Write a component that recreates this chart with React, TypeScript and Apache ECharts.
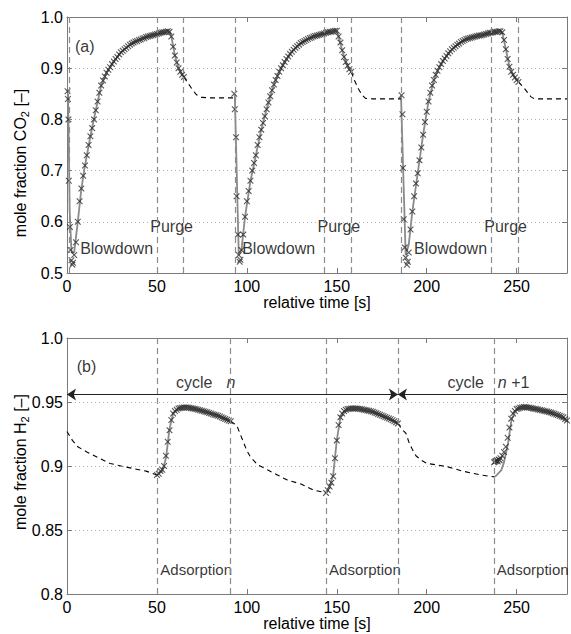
import React, { useEffect, useRef } from "react";
import * as echarts from "echarts";

// ---------- DATA ----------
// Top panel: CO2 mole fraction
const co2TickMin = 0.5;
const co2TickMax = 1.0;
const timeMax = 278;

// measured (x markers): fast blowdown drops as [t, y]
const co2Drop1 = [[0.3, 0.855], [0.5, 0.84], [0.8, 0.8], [1, 0.68], [1.6, 0.59], [2, 0.545], [2.5, 0.525], [3, 0.516], [3.3, 0.52]];
const co2Drop2 = [[93, 0.85], [93.3, 0.82], [94, 0.765], [94.3, 0.65], [95, 0.575], [95.5, 0.535], [96, 0.522], [96.4, 0.526]];
const co2Drop3 = [[186, 0.847], [186.5, 0.81], [186.8, 0.705], [187.2, 0.605], [187.8, 0.55], [188.3, 0.53], [189, 0.516], [189.5, 0.522], [190, 0.54]];
// measured, sampled every 1 s starting at given time
const co2Rise1Start = 4;
const co2Rise1 = [0.535, 0.56, 0.6, 0.64, 0.665, 0.69, 0.71, 0.73, 0.75, 0.767, 0.783, 0.8, 0.818, 0.835, 0.852, 0.866, 0.876, 0.884, 0.891, 0.897, 0.902, 0.908, 0.913, 0.918, 0.922, 0.927, 0.931, 0.934, 0.937, 0.94, 0.943, 0.946, 0.948, 0.95, 0.952, 0.953, 0.955, 0.956, 0.958, 0.959, 0.961, 0.962, 0.963, 0.964, 0.965, 0.966, 0.967, 0.968, 0.969, 0.97, 0.97, 0.971, 0.972, 0.971, 0.962, 0.942, 0.925, 0.911, 0.9, 0.893, 0.887, 0.883];
const co2Rise2Start = 97;
const co2Rise2 = [0.545, 0.575, 0.61, 0.64, 0.66, 0.68, 0.7, 0.715, 0.73, 0.75, 0.765, 0.78, 0.793, 0.806, 0.82, 0.833, 0.845, 0.857, 0.868, 0.877, 0.885, 0.893, 0.9, 0.906, 0.912, 0.918, 0.923, 0.928, 0.932, 0.936, 0.94, 0.943, 0.946, 0.949, 0.951, 0.953, 0.955, 0.957, 0.959, 0.96, 0.962, 0.963, 0.964, 0.965, 0.966, 0.967, 0.968, 0.969, 0.97, 0.971, 0.971, 0.972, 0.973, 0.973, 0.962, 0.95, 0.935, 0.922, 0.912, 0.905, 0.898, 0.893];
const co2Rise3Start = 191;
const co2Rise3 = [0.585, 0.62, 0.65, 0.675, 0.695, 0.72, 0.745, 0.77, 0.795, 0.815, 0.835, 0.852, 0.866, 0.877, 0.887, 0.895, 0.902, 0.908, 0.914, 0.919, 0.924, 0.929, 0.933, 0.937, 0.94, 0.943, 0.946, 0.948, 0.951, 0.953, 0.955, 0.957, 0.958, 0.959, 0.96, 0.961, 0.962, 0.963, 0.964, 0.964, 0.965, 0.966, 0.967, 0.968, 0.969, 0.969, 0.97, 0.971, 0.971, 0.972, 0.972, 0.97, 0.955, 0.937, 0.918, 0.903, 0.893, 0.887, 0.882, 0.877, 0.873];
// model (grey solid)
const co2Model1 = [[0.6, 0.85], [1.5, 0.62], [2.5, 0.54], [4, 0.54], [6, 0.6], [8, 0.665], [10, 0.71], [13, 0.767], [16, 0.818], [19, 0.866], [22, 0.891], [25, 0.908], [30, 0.931], [35, 0.946], [40, 0.955], [45, 0.962], [50, 0.967], [57, 0.972], [58, 0.962], [60, 0.925], [62, 0.9], [65, 0.883]];
const co2Model2 = [[93.3, 0.848], [95.5, 0.535], [97, 0.545], [99, 0.61], [102, 0.68], [105, 0.73], [108, 0.78], [111, 0.82], [114, 0.857], [117, 0.885], [120, 0.906], [125, 0.932], [130, 0.949], [135, 0.959], [140, 0.965], [145, 0.97], [150, 0.973], [151, 0.962], [153, 0.935], [155, 0.912], [158, 0.893]];
const co2Model3 = [[185.7, 0.847], [188.3, 0.535], [190, 0.555], [192, 0.62], [195, 0.695], [198, 0.77], [201, 0.835], [204, 0.877], [207, 0.902], [210, 0.919], [215, 0.94], [220, 0.953], [225, 0.96], [230, 0.964], [235, 0.969], [241, 0.972], [242, 0.97], [244, 0.937], [246, 0.903], [248, 0.887], [251, 0.873]];
// model, unmeasured part (black dashed)
const co2Dash1 = [[65, 0.883], [67, 0.872], [70, 0.857], [72, 0.848], [75, 0.843], [80, 0.842], [93.3, 0.842]];
const co2Dash2 = [[158, 0.893], [160, 0.875], [162, 0.86], [164, 0.848], [166, 0.841], [170, 0.84], [185.7, 0.84]];
const co2Dash3 = [[251, 0.873], [254, 0.862], [256.4, 0.851], [258, 0.844], [260, 0.84], [278, 0.84]];
const co2StepLines = [1, 50, 64.5, 93.3, 143, 157.8, 186, 236, 250.8];

// Bottom panel: H2 mole fraction
const h2TickMin = 0.8;
const h2TickMax = 1.0;
const h2Meas1Start = 50;
const h2Meas1 = [0.893, 0.894, 0.896, 0.897, 0.9, 0.908, 0.919, 0.928, 0.936, 0.941, 0.943, 0.944, 0.945, 0.9453, 0.9456, 0.9458, 0.9458, 0.9457, 0.9455, 0.9452, 0.945, 0.9447, 0.9443, 0.944, 0.9436, 0.9432, 0.9428, 0.9424, 0.942, 0.9415, 0.941, 0.9405, 0.94, 0.9397, 0.9392, 0.9386, 0.938, 0.9374, 0.9368, 0.9362, 0.9356, 0.935];
const h2Meas2Start = 144;
const h2Meas2 = [0.879, 0.881, 0.884, 0.887, 0.892, 0.906, 0.92, 0.932, 0.938, 0.941, 0.943, 0.944, 0.9445, 0.9448, 0.945, 0.945, 0.945, 0.9449, 0.9447, 0.9445, 0.9443, 0.944, 0.9437, 0.9434, 0.9431, 0.9427, 0.9423, 0.9418, 0.9413, 0.9407, 0.9401, 0.9395, 0.9389, 0.9383, 0.9377, 0.9371, 0.9365, 0.9357, 0.9349, 0.9341, 0.9333];
const h2Start3 = [[237.5, 0.903], [238, 0.9035], [238.5, 0.904], [239, 0.9045], [239.5, 0.9035], [240, 0.905], [240.5, 0.9045], [241, 0.906]];
const h2Meas3Start = 242;
const h2Meas3 = [0.908, 0.911, 0.915, 0.922, 0.93, 0.937, 0.941, 0.943, 0.9445, 0.945, 0.9455, 0.9458, 0.946, 0.946, 0.9458, 0.9456, 0.9453, 0.945, 0.9448, 0.9445, 0.9441, 0.9438, 0.9435, 0.9432, 0.9428, 0.9425, 0.9421, 0.9417, 0.9413, 0.9408, 0.9403, 0.9398, 0.9392, 0.9386, 0.938, 0.9368, 0.9355];
const h2Model1 = [[50, 0.893], [53, 0.896], [55, 0.906], [57, 0.929], [59, 0.941], [62, 0.945], [66, 0.946], [74, 0.9436], [83, 0.9397], [91, 0.935]];
const h2Model2 = [[144.3, 0.879], [146, 0.884], [148, 0.893], [150, 0.92], [152, 0.938], [156, 0.9445], [161, 0.9449], [170, 0.9423], [184, 0.9333]];
const h2Model3 = [[237.8, 0.8915], [239, 0.893], [241.5, 0.8968], [243, 0.903], [245.2, 0.9176], [247.1, 0.9358], [249, 0.942], [250.8, 0.9449], [253, 0.9455], [256.4, 0.9457], [262, 0.944], [267.5, 0.9423], [273, 0.939], [278, 0.9345]];
const h2Dash0 = [[0, 0.927], [3, 0.92], [6, 0.915], [11, 0.911], [18, 0.906], [24, 0.902], [30, 0.9], [37, 0.898], [44, 0.896], [50, 0.893]];
const h2Dash1 = [[91, 0.935], [93, 0.933], [94.6, 0.931], [96, 0.926], [98.3, 0.918], [100, 0.912], [102, 0.907], [106, 0.901], [111.4, 0.897], [117, 0.893], [122.5, 0.889], [130, 0.886], [137.4, 0.881], [144.3, 0.879]];
const h2Dash2 = [[184, 0.9333], [186, 0.929], [188.5, 0.9254], [190, 0.919], [192.2, 0.9124], [194, 0.908], [196.9, 0.9046], [200, 0.902], [205, 0.901], [211.8, 0.8993], [220, 0.896], [230.3, 0.8929], [237.8, 0.8915]];
const h2StepLines = [50, 90.5, 144.3, 184.2, 237.8];
const cycleArrowLevel = 0.9558;
const cycleBoundaries = [0, 184, 278];

// ---------- STYLE ----------
const FONT = "'Liberation Sans', Arial, Helvetica, sans-serif";
const FS = 16;
const AXIS_GREY = "#7a7a7a";
const CROSS = "path://M0,1.2L1.2,0L5,3.8L8.8,0L10,1.2L6.2,5L10,8.8L8.8,10L5,6.2L1.2,10L0,8.8L3.8,5Z";

const sampled = (t0: number, vals: number[]) => vals.map((v, i) => [t0 + i, v]);

function axesFor(gridIndex: number, min: number, max: number, interval: number, fmt: (v: number) => string) {
  const tick = { show: true, inside: true, length: 5, lineStyle: { color: AXIS_GREY } };
  const line = { show: true, onZero: false, lineStyle: { color: AXIS_GREY, width: 1 } };
  const x = [
    {
      gridIndex, type: "value", min: 0, max: timeMax, interval: 50, position: "bottom",
      axisLine: line, axisTick: tick,
      axisLabel: { color: "#000", fontSize: FS, fontFamily: FONT, margin: 5, showMaxLabel: false },
      splitLine: { show: false },
      name: "relative time [s]", nameLocation: "middle", nameGap: 19,
      nameTextStyle: { color: "#000", fontSize: FS, fontFamily: FONT },
    },
    {
      gridIndex, type: "value", min: 0, max: timeMax, interval: 50, position: "top",
      axisLine: line, axisTick: tick, axisLabel: { show: false }, splitLine: { show: false },
    },
  ];
  const y = [
    {
      gridIndex, type: "value", min, max, interval, position: "left",
      axisLine: line, axisTick: tick,
      axisLabel: { color: "#000", fontSize: FS, fontFamily: FONT, margin: 4, formatter: fmt },
      splitLine: { show: true, lineStyle: { type: [1, 3], color: "#b0b0b0", width: 1 } },
    },
    {
      gridIndex, type: "value", min, max, interval, position: "right",
      axisLine: line, axisTick: tick, axisLabel: { show: false }, splitLine: { show: false },
    },
  ];
  return { x, y };
}

const markers = (name: string, data: number[][], xi: number, yi: number) => ({
  name, type: "scatter", xAxisIndex: xi, yAxisIndex: yi, data,
  symbol: CROSS, symbolSize: 6.5, itemStyle: { color: "#2e2e2e" }, z: 4, silent: true,
});
const modelLine = (name: string, data: number[][], xi: number, yi: number) => ({
  name, type: "line", xAxisIndex: xi, yAxisIndex: yi, data, showSymbol: false, symbol: "none",
  lineStyle: { color: "#8a8a8a", width: 1.8 }, z: 3, silent: true,
});
const dashLine = (name: string, data: number[][], xi: number, yi: number) => ({
  name, type: "line", xAxisIndex: xi, yAxisIndex: yi, data, showSymbol: false, symbol: "none",
  lineStyle: { color: "#000", width: 1.1, type: [5, 4] }, z: 3, silent: true,
});

export default function App() {
  const ref = useRef<HTMLDivElement>(null);
  useEffect(() => {
    if (!ref.current) return;
    const chart = echarts.init(ref.current, null, { renderer: "svg" });
    const top = axesFor(0, co2TickMin, co2TickMax, 0.1, (v) => v.toFixed(1));
    const bot = axesFor(1, h2TickMin, h2TickMax, 0.05, (v) => (Math.abs(v - 1) < 1e-9 ? "1.0" : String(+v.toFixed(2))));
    const vLineStyle = { type: [6, 4], color: "#8c8c8c", width: 1.2 };
    const txt = { color: "#000", fontSize: FS, fontFamily: FONT };
    const smallLbl = { label: { fontSize: 15 } };
    const yNameRich = {
      n: { fontSize: FS, fontFamily: FONT, lineHeight: 20, fill: "#000" },
      s: { fontSize: 11, fontFamily: FONT, lineHeight: 11, verticalAlign: "bottom", fill: "#000" },
    };

    const option: any = {
      animation: false,
      backgroundColor: "#fff",
      grid: [
        { left: 67, right: 4, top: 17, height: 256 },
        { left: 67, right: 4, top: 338, height: 256 },
      ],
      xAxis: [...top.x, ...bot.x],
      yAxis: [...top.y, ...bot.y],
      graphic: [
        {
          type: "text", x: 20, y: 163, rotation: Math.PI / 2,
          style: { text: "{n|mole fraction CO}{s|2}{n| [–]}", align: "center", verticalAlign: "middle", fill: "#000", rich: yNameRich },
        },
        {
          type: "text", x: 20, y: 462, rotation: Math.PI / 2,
          style: { text: "{n|mole fraction H}{s|2}{n| [–]}", align: "center", verticalAlign: "middle", fill: "#000", rich: yNameRich },
        },
      ],
      series: [
        // ---- top panel ----
        {
          name: "co2 annotations", type: "scatter", xAxisIndex: 0, yAxisIndex: 0, symbolSize: 0, silent: true, z: 1,
          data: [
            { value: [4.4, 0.942], name: "(a)" },
            { value: [7.3, 0.548], name: "Blowdown" },
            { value: [97.4, 0.548], name: "Blowdown" },
            { value: [193, 0.548], name: "Blowdown" },
            { value: [46.3, 0.59], name: "Purge" },
            { value: [139.3, 0.59], name: "Purge" },
            { value: [232, 0.59], name: "Purge" },
          ],
          label: { show: true, position: "right", distance: 0, formatter: "{b}", ...txt },
          markLine: {
            silent: true, symbol: ["none", "none"], label: { show: false }, lineStyle: vLineStyle,
            data: co2StepLines.map((t) => ({ xAxis: t })),
          },
        },
        modelLine("co2 model 1", co2Model1, 0, 0),
        modelLine("co2 model 2", co2Model2, 0, 0),
        modelLine("co2 model 3", co2Model3, 0, 0),
        dashLine("co2 dashed 1", co2Dash1, 0, 0),
        dashLine("co2 dashed 2", co2Dash2, 0, 0),
        dashLine("co2 dashed 3", co2Dash3, 0, 0),
        markers("co2 meas 1", [...co2Drop1, ...sampled(co2Rise1Start, co2Rise1)], 0, 0),
        markers("co2 meas 2", [...co2Drop2, ...sampled(co2Rise2Start, co2Rise2)], 0, 0),
        markers("co2 meas 3", [...co2Drop3, ...sampled(co2Rise3Start, co2Rise3)], 0, 0),
        // ---- bottom panel ----
        {
          name: "h2 annotations", type: "scatter", xAxisIndex: 2, yAxisIndex: 2, symbolSize: 0, silent: true, z: 1,
          data: [
            { value: [5.4, 0.9774], name: "(b)" },
            { value: [51.9, 0.8195], name: "Adsorption", ...smallLbl },
            { value: [145.7, 0.8195], name: "Adsorption", ...smallLbl },
            { value: [239, 0.8195], name: "Adsorption", ...smallLbl },
            { value: [60.6, 0.9654], name: "{a|cycle}{i|n}" },
            { value: [211.5, 0.9654], name: "{a|cycle}{i|n}{a| +1}" },
          ],
          label: {
            show: true, position: "right", distance: 0, formatter: "{b}", ...txt,
            rich: {
              a: { ...txt },
              i: { ...txt, fontStyle: "italic", padding: [0, 0, 0, 14] },
            },
          },
          markLine: {
            silent: true, symbol: ["none", "none"], label: { show: false }, lineStyle: vLineStyle,
            data: h2StepLines.map((t) => ({ xAxis: t })),
          },
        },
        {
          name: "cycle arrows", type: "line", xAxisIndex: 2, yAxisIndex: 2, data: [], silent: true, z: 5,
          markLine: {
            silent: true, symbolSize: 9, label: { show: false },
            lineStyle: { type: "solid", color: "#222", width: 1 },
            data: [
              [
                { coord: [cycleBoundaries[0], cycleArrowLevel], symbol: "arrow" },
                { coord: [cycleBoundaries[1], cycleArrowLevel], symbol: "arrow" },
              ],
              [
                { coord: [cycleBoundaries[1], cycleArrowLevel], symbol: "arrow" },
                { coord: [cycleBoundaries[2], cycleArrowLevel], symbol: "none" },
              ],
            ],
          },
        },
        dashLine("h2 dashed 0", h2Dash0, 2, 2),
        dashLine("h2 dashed 1", h2Dash1, 2, 2),
        dashLine("h2 dashed 2", h2Dash2, 2, 2),
        modelLine("h2 model 1", h2Model1, 2, 2),
        modelLine("h2 model 2", h2Model2, 2, 2),
        modelLine("h2 model 3", h2Model3, 2, 2),
        markers("h2 meas 1", sampled(h2Meas1Start, h2Meas1), 2, 2),
        markers("h2 meas 2", sampled(h2Meas2Start, h2Meas2), 2, 2),
        markers("h2 meas 3", [...h2Start3, ...sampled(h2Meas3Start, h2Meas3)], 2, 2),
      ],
    };
    chart.setOption(option);
    return () => chart.dispose();
  }, []);
  return <div ref={ref} style={{ position: "absolute", left: 0, top: 0, width: 571, height: 634 }} />;
}
